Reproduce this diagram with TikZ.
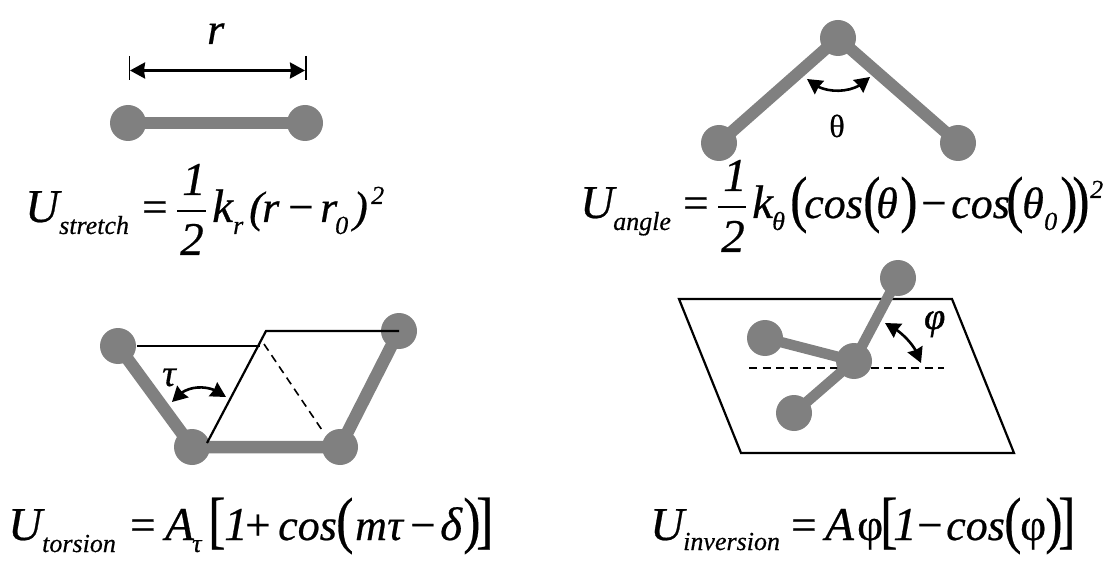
\documentclass[tikz,border=0pt]{standalone}
\usepackage{fontspec}
\usepackage{graphicx}
\setmainfont[FakeBold=0.5]{Liberation Serif}
\newfontfamily\heavy[FakeBold=1.2]{Liberation Serif}
\usetikzlibrary{arrows.meta,bending}
\definecolor{atomgrey}{HTML}{808080}
\newcommand{\fs}[1]{\fontsize{#1bp}{#1bp}\selectfont}
\newcommand{\tall}[1]{\scalebox{1}[1.2]{#1}}
\tikzset{
  atom/.style={circle,fill=atomgrey,inner sep=0,minimum size=36bp},
  bond/.style={draw=atomgrey,line width=12.5bp},
  thin line/.style={draw=black,line width=2.2bp},
  dashline/.style={draw=black,line width=1.6bp,dash pattern=on 8bp off 5.5bp},
  bar/.style={draw=black,line width=1.8bp},
  dbl/.style={draw=black,line width=2.6bp,{Stealth[length=15bp,width=16bp,inset=1bp,flex]}-{Stealth[length=15bp,width=16bp,inset=1bp,flex]}},
  eqtxt/.style={anchor=base west,inner sep=0,font=\fs{44}\itshape},
  capital/.style={anchor=base west,inner sep=0,font=\fs{47}\itshape},
  subtxt/.style={anchor=base west,inner sep=0,font=\fs{26}\itshape},
  uptxt/.style={anchor=base west,inner sep=0,font=\fs{45}},
  bigtxt/.style={anchor=base west,inner sep=0,font=\fs{52}},
}
\begin{document}
\begin{tikzpicture}[x=1bp,y=-1bp]
\path[use as bounding box,fill=white] (0,0) rectangle (1113,563);

% --- stretch
\node[atom] (s1) at (128,123) {};
\node[atom] (s2) at (305,123) {};
\path[bond] (s1.center) -- (s2.center);
\coordinate (ra) at (130,70.5); \coordinate (rb) at (305,70.5);
\coordinate (t1a) at (129.5,56); \coordinate (t1b) at (129.5,80);
\coordinate (t2a) at (306,56); \coordinate (t2b) at (306,80);
\draw[dbl] (ra) -- (rb);
\draw[line width=1.4bp] (t1a) -- (t1b);
\draw[line width=1.4bp] (t2a) -- (t2b);
\node[eqtxt] (rl) at (207,44) {r};
\node[capital] (s-u) at (25,222) {U};
\node[subtxt] (s-sub) at (59,234) {stretch};
\node[uptxt] (s-eq) at (142,222) {=};
\node[capital] (s-n) at (182,195) {1};
\node[capital] (s-d) at (180,255) {2};
\draw[bar] (177,211) coordinate (s-ba) -- (206,211) coordinate (s-bb);
\node[capital] (s-k) at (212,222) {k};
\node[subtxt] (s-kr) at (233,234) {r};
\node[eqtxt] (s-op) at (249,222) {(};
\node[eqtxt] (s-r) at (262,222) {r};
\node[uptxt] (s-m) at (288,222) {−};
\node[eqtxt] (s-r2) at (320,222) {r};
\node[subtxt] (s-0) at (335,234) {0};
\node[eqtxt] (s-cp) at (353,222) {)};
\node[subtxt] (s-2) at (371,204) {2};

% --- angle
\node[atom] (a0) at (838,38) {};
\node[atom] (a1) at (719,143) {};
\node[atom] (a2) at (958,143) {};
\path[bond,line width=12bp] (a1.center) -- (a0.center) -- (a2.center);
\coordinate (aa) at (807,79); \coordinate (ab) at (870,77);
\draw[dbl] (aa) .. controls (822,95) and (855,95) .. (ab);
\node[anchor=base,inner sep=0,font=\fs{32}] (th) at (837,137) {θ};
\node[capital] (a-u) at (580,218) {U};
\node[subtxt] (a-sub) at (613,230) {angle};
\node[uptxt] (a-eq) at (683,218) {=};
\node[capital] (a-n) at (723,191) {1};
\node[capital] (a-d) at (721,252) {2};
\draw[bar] (718,207) coordinate (a-ba) -- (746,207) coordinate (a-bb);
\node[capital] (a-k) at (752,218) {k};
\node[subtxt] (a-kt) at (772,230) {θ};
\node[bigtxt] (a-o1) at (790,220) {\tall{(}};
\node[eqtxt] (a-c1) at (804,218) {cos};
\node[bigtxt] (a-o2) at (863,220) {\tall{(}};
\node[eqtxt] (a-t1) at (876,218) {θ};
\node[bigtxt] (a-c2) at (900,220) {\tall{)}};
\node[uptxt] (a-m) at (921,218) {−};
\node[eqtxt] (a-c3) at (951,218) {cos};
\node[bigtxt] (a-o3) at (1006,220) {\tall{(}};
\node[eqtxt] (a-t2) at (1022,218) {θ};
\node[subtxt] (a-0) at (1044,230) {0};
\node[bigtxt] (a-c4) at (1060,220) {\tall{)}};
\node[bigtxt] (a-c5) at (1072,220) {\tall{)}};
\node[subtxt] (a-2) at (1090,198) {2};

% --- torsion
\node[atom] (t1) at (118,346) {};
\node[atom] (t2) at (192,447) {};
\node[atom] (t3) at (340,447) {};
\node[atom] (t4) at (399,331) {};
\path[bond] (t1.center) -- (t2.center) -- (t3.center) -- (t4.center);
\coordinate (l1) at (137,346); \coordinate (l2) at (260,346);
\coordinate (l3) at (207,443); \coordinate (l4) at (266,331);
\draw[thin line] (l1) -- (l2);
\draw[thin line,line join=miter] (l3) -- (l4) -- (t4.center);
\coordinate (d1) at (264,344); \coordinate (d2) at (324,433);
\path[dashline] (d1) -- (d2);
\coordinate (ta) at (172,402); \coordinate (tb) at (226,397);
\draw[dbl] (ta) .. controls (184,384) and (210,383) .. (tb);
\node[anchor=base west,inner sep=0,font=\fs{38}\itshape] (tau) at (162,386) {τ};
\node[capital] (t-u) at (8,540) {U};
\node[subtxt] (t-sub) at (42,552) {torsion};
\node[uptxt] (t-eq) at (130,540) {=};
\node[capital] (t-a) at (165,540) {A};
\node[subtxt] (t-at) at (192,552) {τ};
\node[bigtxt] (t-ob) at (208,541) {\tall{[}};
\node[capital] (t-1) at (224,540) {1};
\node[uptxt] (t-p) at (245,540) {+};
\node[eqtxt] (t-c) at (278,540) {cos};
\node[bigtxt] (t-o) at (336,541) {\tall{(}};
\node[eqtxt] (t-m) at (355,540) {m};
\node[eqtxt] (t-tau) at (387,540) {τ};
\node[uptxt] (t-mi) at (410,540) {−};
\node[capital] (t-de) at (440,540) {δ};
\node[bigtxt] (t-cl) at (463,541) {\tall{)}};
\node[bigtxt] (t-cb) at (476,541) {\tall{]}};

% --- inversion
\coordinate (p1) at (679,299); \coordinate (p2) at (952,299);
\coordinate (p3) at (1014,453); \coordinate (p4) at (741,453);
\draw[thin line,line join=miter] (p1) -- (p2) -- (p3) -- (p4) -- cycle;
\coordinate (e1) at (749,368); \coordinate (e2) at (944,368);
\path[dashline] (e1) -- (e2);
\node[atom] (i0) at (854,361) {};
\node[atom] (i1) at (898,278) {};
\node[atom] (i2) at (765,338) {};
\node[atom] (i3) at (794,413) {};
\path[bond,line width=10.5bp] (i0.center) -- (i1.center);
\path[bond,line width=10.5bp] (i0.center) -- (i2.center);
\path[bond,line width=10.5bp] (i0.center) -- (i3.center);
\coordinate (ia) at (885,323); \coordinate (ib) at (921,363);
\draw[dbl] (ia) .. controls (902,331) and (917,347) .. (ib);
\node[anchor=base west,inner sep=0,font=\fs{38}\heavy\itshape] (phi) at (924,329) {φ};
\node[capital] (i-u) at (650,540) {U};
\node[subtxt] (i-sub) at (683,550) {inversion};
\node[uptxt] (i-eq) at (791,540) {=};
\node[capital] (i-a) at (825,540) {A};
\node[uptxt] (i-ph) at (857,540) {φ};
\node[bigtxt] (i-ob) at (880,541) {\tall{[}};
\node[capital] (i-1) at (893,540) {1};
\node[uptxt] (i-m) at (917,540) {−};
\node[eqtxt] (i-c) at (946,540) {cos};
\node[bigtxt] (i-o) at (1004,541) {\tall{(}};
\node[uptxt] (i-ph2) at (1020,540) {φ};
\node[bigtxt] (i-cl) at (1045,541) {\tall{)}};
\node[bigtxt] (i-cb) at (1058,541) {\tall{]}};
\end{tikzpicture}
\end{document}
